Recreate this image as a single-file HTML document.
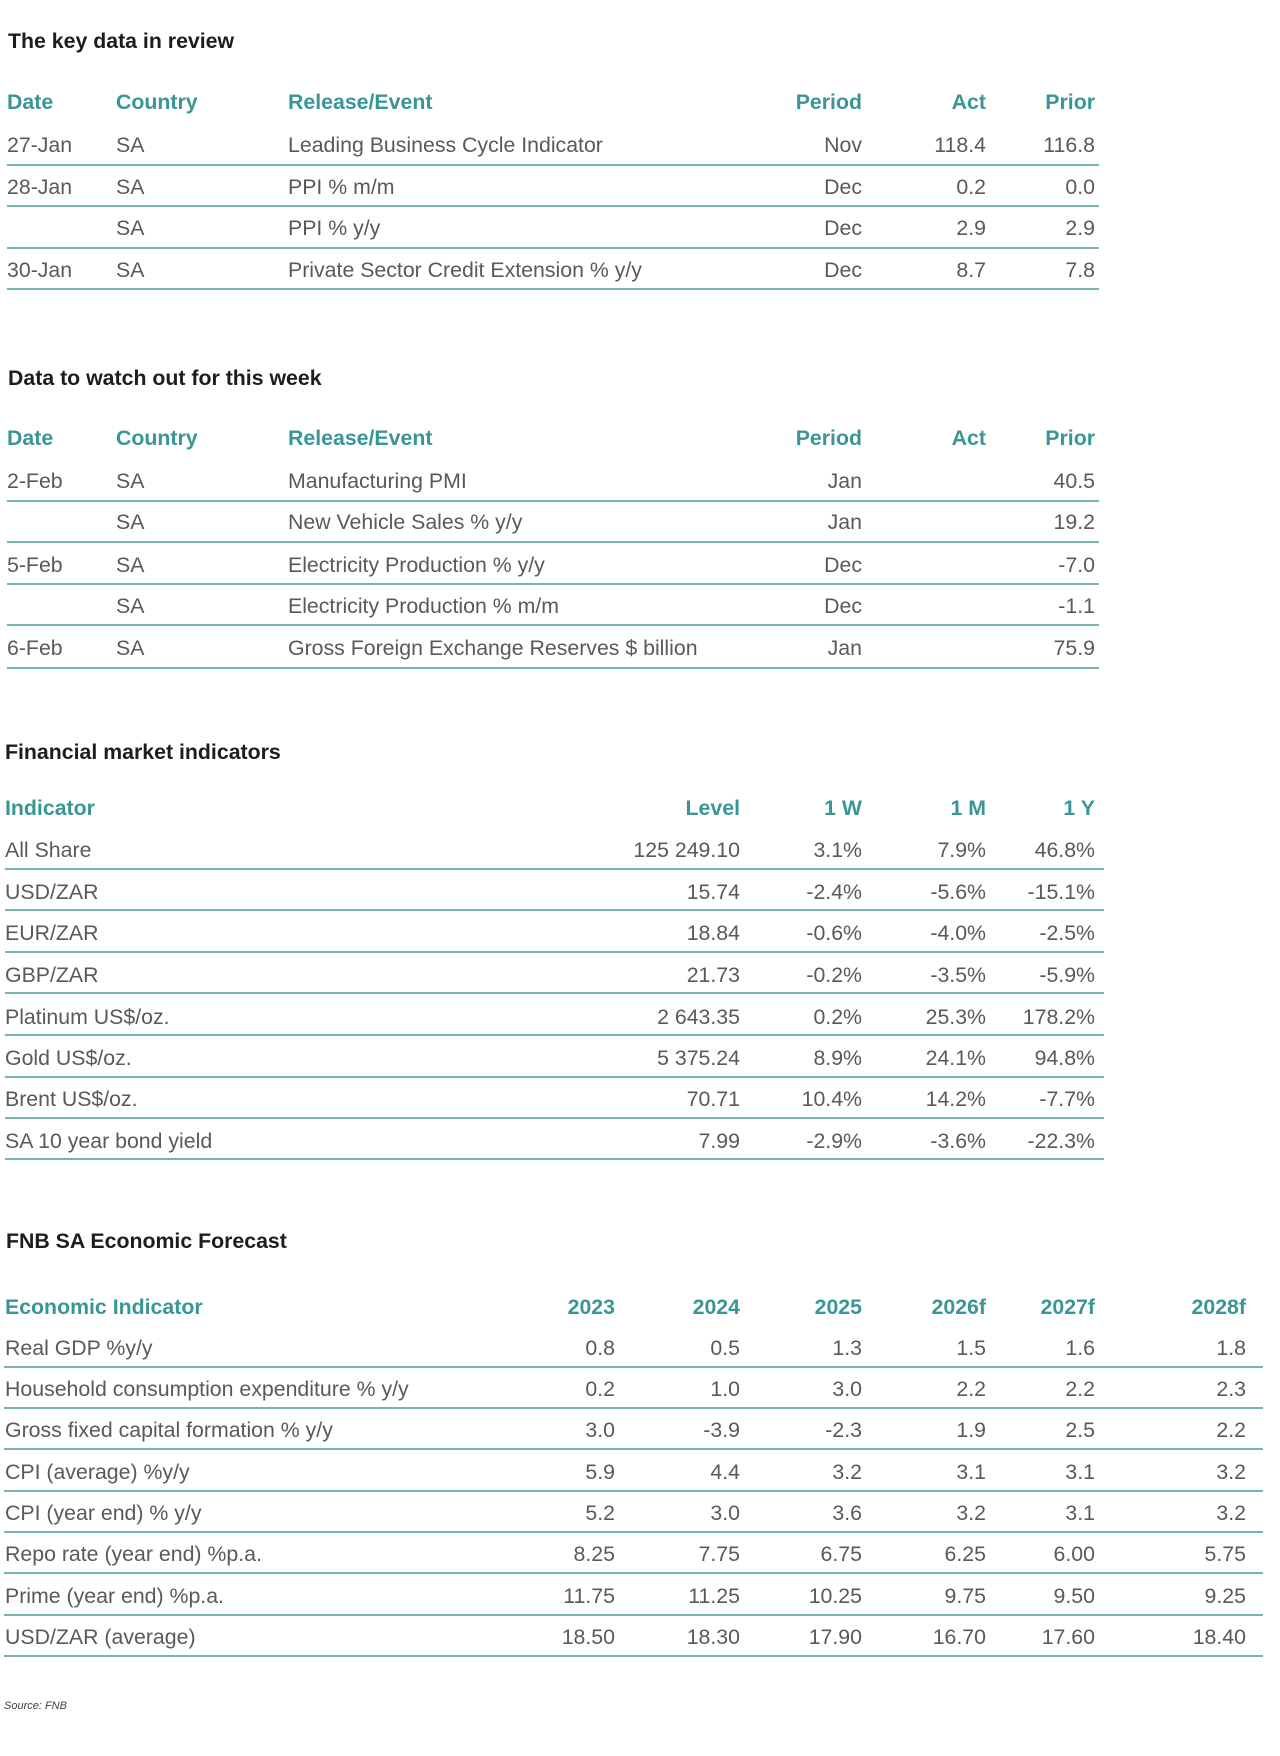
<!DOCTYPE html>
<html>
<head>
<meta charset="utf-8">
<style>
html,body{margin:0;padding:0;background:#fff;}
body{width:1280px;height:1756px;position:relative;overflow:hidden;font-family:"Liberation Sans",Arial,sans-serif;}
.t{position:absolute;height:30px;line-height:30px;font-size:21.3px;color:#595959;white-space:nowrap;}
.h{color:#3a9696;font-weight:bold;}
.ti{color:#1d1d1d;font-weight:bold;}
.ln{position:absolute;height:2px;background:#76b3b3;}
.s12{left:7px;width:1092px;}
.s3{left:5px;width:1099px;}
.s4{left:4px;width:1259px;}
.a1{left:7px}.a2{left:116px}.a3{left:288px}.a4{right:418px}.a5{right:294px}.a6{right:185px}
.b1{left:5px}.b2{right:540px}
.d0{right:665px}.d7{right:34px}
.src{position:absolute;left:4px;top:1698px;height:16px;line-height:16px;font-size:11px;font-style:italic;color:#404040;white-space:nowrap;}
</style>
</head>
<body>

<!-- Section 1 -->
<div class="t ti" style="top:26px;left:8px">The key data in review</div>
<div class="t h a1" style="top:87px">Date</div>
<div class="t h a2" style="top:87px">Country</div>
<div class="t h a3" style="top:87px">Release/Event</div>
<div class="t h a4" style="top:87px">Period</div>
<div class="t h a5" style="top:87px">Act</div>
<div class="t h a6" style="top:87px">Prior</div>

<div class="t a1" style="top:130px">27-Jan</div>
<div class="t a2" style="top:130px">SA</div>
<div class="t a3" style="top:130px">Leading Business Cycle Indicator</div>
<div class="t a4" style="top:130px">Nov</div>
<div class="t a5" style="top:130px">118.4</div>
<div class="t a6" style="top:130px">116.8</div>
<div class="ln s12" style="top:164px"></div>

<div class="t a1" style="top:172px">28-Jan</div>
<div class="t a2" style="top:172px">SA</div>
<div class="t a3" style="top:172px">PPI % m/m</div>
<div class="t a4" style="top:172px">Dec</div>
<div class="t a5" style="top:172px">0.2</div>
<div class="t a6" style="top:172px">0.0</div>
<div class="ln s12" style="top:205px"></div>

<div class="t a2" style="top:213px">SA</div>
<div class="t a3" style="top:213px">PPI % y/y</div>
<div class="t a4" style="top:213px">Dec</div>
<div class="t a5" style="top:213px">2.9</div>
<div class="t a6" style="top:213px">2.9</div>
<div class="ln s12" style="top:247px"></div>

<div class="t a1" style="top:255px">30-Jan</div>
<div class="t a2" style="top:255px">SA</div>
<div class="t a3" style="top:255px">Private Sector Credit Extension % y/y</div>
<div class="t a4" style="top:255px">Dec</div>
<div class="t a5" style="top:255px">8.7</div>
<div class="t a6" style="top:255px">7.8</div>
<div class="ln s12" style="top:288px"></div>

<!-- Section 2 -->
<div class="t ti" style="top:363px;left:8px">Data to watch out for this week</div>
<div class="t h a1" style="top:423px">Date</div>
<div class="t h a2" style="top:423px">Country</div>
<div class="t h a3" style="top:423px">Release/Event</div>
<div class="t h a4" style="top:423px">Period</div>
<div class="t h a5" style="top:423px">Act</div>
<div class="t h a6" style="top:423px">Prior</div>

<div class="t a1" style="top:466px">2-Feb</div>
<div class="t a2" style="top:466px">SA</div>
<div class="t a3" style="top:466px">Manufacturing PMI</div>
<div class="t a4" style="top:466px">Jan</div>
<div class="t a6" style="top:466px">40.5</div>
<div class="ln s12" style="top:500px"></div>

<div class="t a2" style="top:507px">SA</div>
<div class="t a3" style="top:507px">New Vehicle Sales % y/y</div>
<div class="t a4" style="top:507px">Jan</div>
<div class="t a6" style="top:507px">19.2</div>
<div class="ln s12" style="top:541px"></div>

<div class="t a1" style="top:550px">5-Feb</div>
<div class="t a2" style="top:550px">SA</div>
<div class="t a3" style="top:550px">Electricity Production % y/y</div>
<div class="t a4" style="top:550px">Dec</div>
<div class="t a6" style="top:550px">-7.0</div>
<div class="ln s12" style="top:583px"></div>

<div class="t a2" style="top:591px">SA</div>
<div class="t a3" style="top:591px">Electricity Production % m/m</div>
<div class="t a4" style="top:591px">Dec</div>
<div class="t a6" style="top:591px">-1.1</div>
<div class="ln s12" style="top:624px"></div>

<div class="t a1" style="top:633px">6-Feb</div>
<div class="t a2" style="top:633px">SA</div>
<div class="t a3" style="top:633px">Gross Foreign Exchange Reserves $ billion</div>
<div class="t a4" style="top:633px">Jan</div>
<div class="t a6" style="top:633px">75.9</div>
<div class="ln s12" style="top:667px"></div>

<!-- Section 3 -->
<div class="t ti" style="top:737px;left:5px">Financial market indicators</div>
<div class="t h b1" style="top:793px">Indicator</div>
<div class="t h b2" style="top:793px">Level</div>
<div class="t h a4" style="top:793px">1 W</div>
<div class="t h a5" style="top:793px">1 M</div>
<div class="t h a6" style="top:793px">1 Y</div>

<div class="t b1" style="top:835px">All Share</div>
<div class="t b2" style="top:835px">125 249.10</div>
<div class="t a4" style="top:835px">3.1%</div>
<div class="t a5" style="top:835px">7.9%</div>
<div class="t a6" style="top:835px">46.8%</div>
<div class="ln s3" style="top:868px"></div>

<div class="t b1" style="top:877px">USD/ZAR</div>
<div class="t b2" style="top:877px">15.74</div>
<div class="t a4" style="top:877px">-2.4%</div>
<div class="t a5" style="top:877px">-5.6%</div>
<div class="t a6" style="top:877px">-15.1%</div>
<div class="ln s3" style="top:909px"></div>

<div class="t b1" style="top:918px">EUR/ZAR</div>
<div class="t b2" style="top:918px">18.84</div>
<div class="t a4" style="top:918px">-0.6%</div>
<div class="t a5" style="top:918px">-4.0%</div>
<div class="t a6" style="top:918px">-2.5%</div>
<div class="ln s3" style="top:951px"></div>

<div class="t b1" style="top:960px">GBP/ZAR</div>
<div class="t b2" style="top:960px">21.73</div>
<div class="t a4" style="top:960px">-0.2%</div>
<div class="t a5" style="top:960px">-3.5%</div>
<div class="t a6" style="top:960px">-5.9%</div>
<div class="ln s3" style="top:992px"></div>

<div class="t b1" style="top:1002px">Platinum US$/oz.</div>
<div class="t b2" style="top:1002px">2 643.35</div>
<div class="t a4" style="top:1002px">0.2%</div>
<div class="t a5" style="top:1002px">25.3%</div>
<div class="t a6" style="top:1002px">178.2%</div>
<div class="ln s3" style="top:1034px"></div>

<div class="t b1" style="top:1043px">Gold US$/oz.</div>
<div class="t b2" style="top:1043px">5 375.24</div>
<div class="t a4" style="top:1043px">8.9%</div>
<div class="t a5" style="top:1043px">24.1%</div>
<div class="t a6" style="top:1043px">94.8%</div>
<div class="ln s3" style="top:1076px"></div>

<div class="t b1" style="top:1084px">Brent US$/oz.</div>
<div class="t b2" style="top:1084px">70.71</div>
<div class="t a4" style="top:1084px">10.4%</div>
<div class="t a5" style="top:1084px">14.2%</div>
<div class="t a6" style="top:1084px">-7.7%</div>
<div class="ln s3" style="top:1117px"></div>

<div class="t b1" style="top:1126px">SA 10 year bond yield</div>
<div class="t b2" style="top:1126px">7.99</div>
<div class="t a4" style="top:1126px">-2.9%</div>
<div class="t a5" style="top:1126px">-3.6%</div>
<div class="t a6" style="top:1126px">-22.3%</div>
<div class="ln s3" style="top:1158px"></div>

<!-- Section 4 -->
<div class="t ti" style="top:1226px;left:6px">FNB SA Economic Forecast</div>
<div class="t h b1" style="top:1292px">Economic Indicator</div>
<div class="t h d0" style="top:1292px">2023</div>
<div class="t h b2" style="top:1292px">2024</div>
<div class="t h a4" style="top:1292px">2025</div>
<div class="t h a5" style="top:1292px">2026f</div>
<div class="t h a6" style="top:1292px">2027f</div>
<div class="t h d7" style="top:1292px">2028f</div>

<div class="t b1" style="top:1333px">Real GDP %y/y</div>
<div class="t d0" style="top:1333px">0.8</div>
<div class="t b2" style="top:1333px">0.5</div>
<div class="t a4" style="top:1333px">1.3</div>
<div class="t a5" style="top:1333px">1.5</div>
<div class="t a6" style="top:1333px">1.6</div>
<div class="t d7" style="top:1333px">1.8</div>
<div class="ln s4" style="top:1366px"></div>

<div class="t b1" style="top:1374px">Household consumption expenditure % y/y</div>
<div class="t d0" style="top:1374px">0.2</div>
<div class="t b2" style="top:1374px">1.0</div>
<div class="t a4" style="top:1374px">3.0</div>
<div class="t a5" style="top:1374px">2.2</div>
<div class="t a6" style="top:1374px">2.2</div>
<div class="t d7" style="top:1374px">2.3</div>
<div class="ln s4" style="top:1407px"></div>

<div class="t b1" style="top:1415px">Gross fixed capital formation % y/y</div>
<div class="t d0" style="top:1415px">3.0</div>
<div class="t b2" style="top:1415px">-3.9</div>
<div class="t a4" style="top:1415px">-2.3</div>
<div class="t a5" style="top:1415px">1.9</div>
<div class="t a6" style="top:1415px">2.5</div>
<div class="t d7" style="top:1415px">2.2</div>
<div class="ln s4" style="top:1448px"></div>

<div class="t b1" style="top:1457px">CPI (average) %y/y</div>
<div class="t d0" style="top:1457px">5.9</div>
<div class="t b2" style="top:1457px">4.4</div>
<div class="t a4" style="top:1457px">3.2</div>
<div class="t a5" style="top:1457px">3.1</div>
<div class="t a6" style="top:1457px">3.1</div>
<div class="t d7" style="top:1457px">3.2</div>
<div class="ln s4" style="top:1490px"></div>

<div class="t b1" style="top:1498px">CPI (year end) % y/y</div>
<div class="t d0" style="top:1498px">5.2</div>
<div class="t b2" style="top:1498px">3.0</div>
<div class="t a4" style="top:1498px">3.6</div>
<div class="t a5" style="top:1498px">3.2</div>
<div class="t a6" style="top:1498px">3.1</div>
<div class="t d7" style="top:1498px">3.2</div>
<div class="ln s4" style="top:1531px"></div>

<div class="t b1" style="top:1539px">Repo rate (year end) %p.a.</div>
<div class="t d0" style="top:1539px">8.25</div>
<div class="t b2" style="top:1539px">7.75</div>
<div class="t a4" style="top:1539px">6.75</div>
<div class="t a5" style="top:1539px">6.25</div>
<div class="t a6" style="top:1539px">6.00</div>
<div class="t d7" style="top:1539px">5.75</div>
<div class="ln s4" style="top:1572px"></div>

<div class="t b1" style="top:1581px">Prime (year end) %p.a.</div>
<div class="t d0" style="top:1581px">11.75</div>
<div class="t b2" style="top:1581px">11.25</div>
<div class="t a4" style="top:1581px">10.25</div>
<div class="t a5" style="top:1581px">9.75</div>
<div class="t a6" style="top:1581px">9.50</div>
<div class="t d7" style="top:1581px">9.25</div>
<div class="ln s4" style="top:1614px"></div>

<div class="t b1" style="top:1622px">USD/ZAR (average)</div>
<div class="t d0" style="top:1622px">18.50</div>
<div class="t b2" style="top:1622px">18.30</div>
<div class="t a4" style="top:1622px">17.90</div>
<div class="t a5" style="top:1622px">16.70</div>
<div class="t a6" style="top:1622px">17.60</div>
<div class="t d7" style="top:1622px">18.40</div>
<div class="ln s4" style="top:1655px"></div>

<div class="src">Source: FNB</div>

</body>
</html>
